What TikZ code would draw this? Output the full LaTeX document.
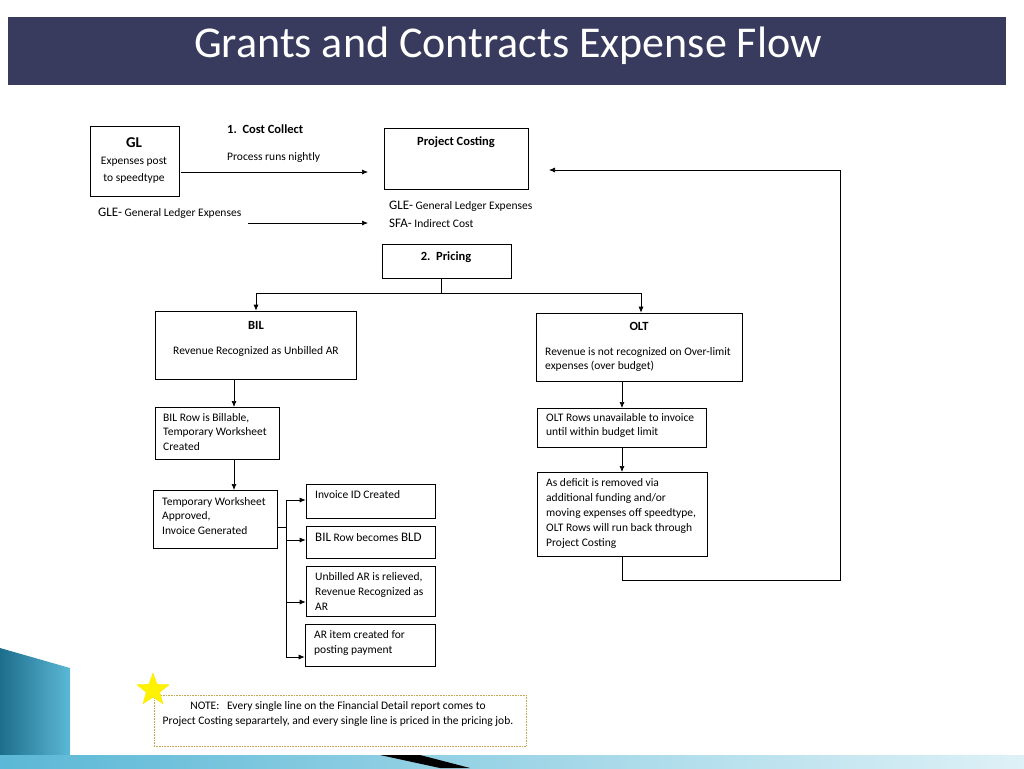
\documentclass[tikz,border=0pt]{standalone}
\usepackage{fontspec}
\setmainfont{Carlito}
\usetikzlibrary{arrows.meta,shapes.geometric}
\definecolor{navy}{HTML}{383B5E}
\definecolor{teal1}{HTML}{1C6E8C}
\definecolor{teal2}{HTML}{5BB8D6}
\definecolor{gold}{HTML}{C9A850}
\begin{document}
\begin{tikzpicture}[x=1pt,y=-1pt,
  bx/.style={draw,line width=0.7pt,inner sep=0pt},
  tx/.style={font=\fontsize{11.5}{14}\selectfont,align=left,anchor=north west,inner sep=0pt},
  ar/.style={-{Latex[length=6pt,width=5pt]},line width=0.7pt},
  ln/.style={line width=0.7pt}]
\useasboundingbox (0,0) rectangle (1024,768);
\fill[white] (0,0) rectangle (1024,768);
% decoration
\shade[left color=teal1,right color=teal2] (0,648) -- (70,668) -- (70,755) -- (0,768) -- cycle;
\shade[left color=teal2,right color=white!80!teal2] (0,755) rectangle (1024,768);
\fill[black] (380,755) -- (440,768) -- (470,768) -- (420,755) -- cycle;
\fill[navy] (8,17) rectangle (1006,85);
\node[text=white,font=\fontsize{44}{48}\selectfont] (title) at (508,46) {Grants and Contracts Expense Flow};
% boxes
\node[bx,minimum width=89,minimum height=70] (gl) at (134.5,161) {};
\node[font=\fontsize{15}{17}\selectfont\bfseries] at (134,143) {GL};
\node[font=\fontsize{11.5}{17}\selectfont,align=center] at (134,170) {Expenses post\\to speedtype};
\node[bx,minimum width=144,minimum height=61] (pc) at (456,158.5) {};
\node[font=\fontsize{12.5}{14}\selectfont\bfseries] at (456,142) {Project Costing};
\node[bx,minimum width=129,minimum height=34] (pr) at (446.5,261) {};
\node[font=\fontsize{12.5}{14}\selectfont\bfseries] at (446,257) {2.\ \ Pricing};
\node[tx,font=\fontsize{12.5}{14}\selectfont\bfseries] (cc) at (227,125) {1.\ \ Cost Collect};
\node[tx] (prn) at (227,152) {Process runs nightly};
\node[tx] (gle1) at (98,208) {{\fontsize{13}{15}\selectfont GLE-} General Ledger Expenses};
\node[tx,font=\fontsize{11.5}{18}\selectfont] (gle2) at (389,201) {{\fontsize{13}{15}\selectfont GLE-} General Ledger Expenses\\{\fontsize{13}{15}\selectfont SFA-} Indirect Cost};
\node[bx,minimum width=201,minimum height=68] (bil) at (255.5,345) {};
\node[font=\fontsize{12.5}{14}\selectfont\bfseries] at (256,325) {BIL};
\node[tx] at (173,346) {Revenue Recognized as Unbilled AR};
\node[bx,minimum width=206,minimum height=68] (olt) at (639,347) {};
\node[font=\fontsize{12.5}{14}\selectfont\bfseries] at (639,326) {OLT};
\node[tx,font=\fontsize{11.5}{14.5}\selectfont] at (545,347) {Revenue is not recognized on Over-limit\\expenses (over budget)};
\node[bx,minimum width=124,minimum height=52] (br) at (217,433) {};
\node[tx,font=\fontsize{11.5}{14.5}\selectfont] at (163,413) {BIL Row is Billable,\\Temporary Worksheet\\Created};
\node[bx,minimum width=169,minimum height=39] (or) at (621.5,427.5) {};
\node[tx,font=\fontsize{11.5}{14.5}\selectfont] at (546,413) {OLT Rows unavailable to invoice\\until within budget limit};
\node[bx,minimum width=124,minimum height=58] (tw) at (215,519) {};
\node[tx,font=\fontsize{11.5}{14.5}\selectfont] at (162,497) {Temporary Worksheet\\Approved,\\Invoice Generated};
\node[bx,minimum width=170,minimum height=84] (df) at (622,514) {};
\node[tx,font=\fontsize{11.5}{15}\selectfont] at (546,478) {As deficit is removed via\\additional funding and/or\\moving expenses off speedtype,\\OLT Rows will run back through\\Project Costing};
\node[bx,minimum width=129,minimum height=34] (i1) at (370.5,501) {};
\node[tx] at (315,490) {Invoice ID Created};
\node[bx,minimum width=129,minimum height=32] (i2) at (370.5,542) {};
\node[tx] at (315,533) {{\fontsize{13}{15}\selectfont BIL} Row becomes {\fontsize{13}{15}\selectfont BLD}};
\node[bx,minimum width=129,minimum height=50] (i3) at (370.5,591) {};
\node[tx,font=\fontsize{11.5}{15}\selectfont] at (315,572) {Unbilled AR is relieved,\\Revenue Recognized as\\AR};
\node[bx,minimum width=130,minimum height=42] (i4) at (370,645) {};
\node[tx,font=\fontsize{11.5}{15}\selectfont] at (314,630) {AR item created for\\posting payment};
\node[draw=gold,densely dotted,line width=0.6pt,minimum width=372,minimum height=51,inner sep=0pt] (note) at (340,720.5) {};
\node[font=\fontsize{11.5}{15}\selectfont,align=center] at (338,714) {NOTE:\ \ \ Every single line on the Financial Detail report comes to\\Project Costing separartely, and every single line is priced in the pricing job.};
\node[star,star points=5,star point ratio=2.4,fill=yellow,draw=yellow!90!orange,minimum size=34,inner sep=0pt] (st) at (153,690) {};
% connectors
\coordinate (a1) at (181,172); \coordinate (a2) at (368,172);
\draw[ar] (a1) -- (a2);
\coordinate (b1) at (248,223); \coordinate (b2) at (368,223);
\draw[ar] (b1) -- (b2);
\coordinate (p1) at (441,293);
\draw[ln] (441,278) -- (p1);
\draw[ar] (p1) -| (bil.north-|256,0);
\draw[ar] (p1) -| (olt.north-|641,0);
\draw[ar] (234,379) -- (234,407);
\draw[ar] (234,459) -- (234,490);
\draw[ar] (622,381) -- (622,408);
\draw[ar] (622,447) -- (622,472);
\coordinate (r1) at (840,580); \coordinate (r2) at (549,170);
\draw[ar] (df.south-|622,0) |- (r1) |- (r2);
\draw[ln] (277,527) -- (286,527);
\draw[ln] (286,500) -- (286,657);
\draw[ar] (286,500) -- (i1.west|-0,500);
\draw[ar] (286,540) -- (i2.west|-0,540);
\draw[ar] (286,602) -- (i3.west|-0,602);
\draw[ar] (286,657) -- (i4.west|-0,657);
\end{tikzpicture}
\end{document}
